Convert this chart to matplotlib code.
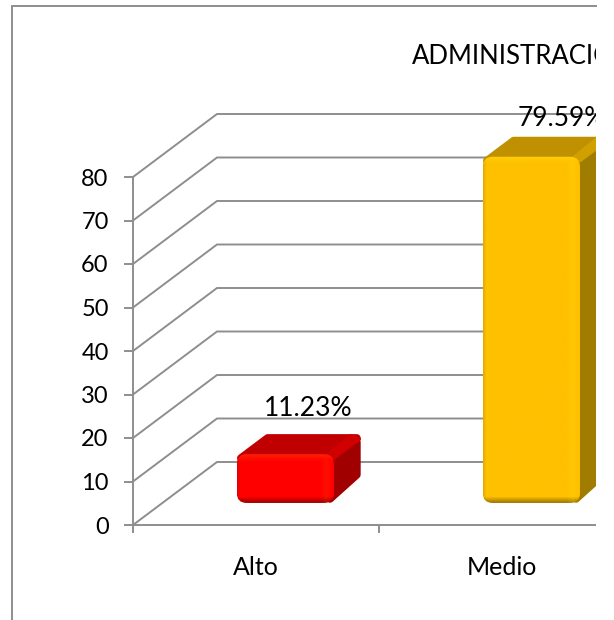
import numpy as np
import matplotlib
matplotlib.use("Agg")
import matplotlib.pyplot as plt
from matplotlib.lines import Line2D
from matplotlib.patches import FancyBboxPatch, Polygon, Rectangle

# ===== DATA =====
categories = ["Alto", "Medio"]
values = [11.23, 79.59]
value_labels = ["11.23%", "79.59%"]
y_ticks = [0, 10, 20, 30, 40, 50, 60, 70, 80]
title_text = "ADMINISTRACIÓN"

# ===== COLORS =====
front_colors = ["#FF0000", "#FFC000"]
top_colors = ["#C00000", "#BF9000"]
side_colors = ["#A00000", "#A07C00"]
corner_colors = ["#D00000", "#D0A000"]
grid_color = "#8E8E8E"

# ===== SCALES (pixels per data unit) =====
W, H = 614, 620
PX_X = 246.0
PX_Y = 4.35
X0, Y0 = 133, 95
DEPTH_X = 84 / PX_X
DEPTH_Y = 63 / PX_Y
BAR_W = 0.395
D_FRONT = 0.35
D_BACK = 0.67


def project(x, v, d):
    return x + d * DEPTH_X, v + d * DEPTH_Y


plt.rcParams["font.family"] = ["Lato", "DejaVu Sans"]
fig = plt.figure(figsize=(W / 100, H / 100), dpi=100)
ax = fig.add_axes([0, 0, 1, 1])
ax.set_xlim(-X0 / PX_X, (W - X0) / PX_X)
ax.set_ylim(-Y0 / PX_Y, (H - Y0) / PX_Y)
ax.patch.set_visible(False)

# ===== AXES =====
for s in ["top", "right"]:
    ax.spines[s].set_visible(False)
ax.spines["left"].set_position(("data", 0))
ax.spines["bottom"].set_position(("data", 0))
ax.spines["left"].set_bounds(0, 80)
ax.spines["bottom"].set_bounds(0, 2)
for s in ["left", "bottom"]:
    ax.spines[s].set_color(grid_color)
    ax.spines[s].set_linewidth(1.4)

ax.set_yticks(y_ticks)
ax.tick_params(axis="y", direction="out", length=6.5, width=1.4, color=grid_color,
               labelsize=17, pad=11, labelcolor="black")
ax.set_xticks([0, 1, 2])
ax.set_xticklabels([])
ax.set_xticks([i + 0.5 for i in range(len(categories))], categories, minor=True)
ax.tick_params(axis="x", which="major", direction="out", length=6, width=1.4, color=grid_color)
ax.tick_params(axis="x", which="minor", length=0, labelsize=18, pad=22, labelcolor="black")

# ===== GRID (side wall + back wall) =====
for v in y_ticks:
    bx, by = project(0, v, 1)
    ax.plot([0, bx, 2.5], [v, by, by], color=grid_color, lw=1.4, zorder=1,
            solid_joinstyle="miter")

# ===== BARS =====
label_shift = [(22.5, 25), (30, 18)]
for i, val in enumerate(values):
    left = i + 0.5 - BAR_W / 2
    right = i + 0.5 + BAR_W / 2

    fl, fb = project(left, 0, D_FRONT)
    fr, ft = project(right, val, D_FRONT)
    bl, bb = project(left, 0, D_BACK)
    br, bt = project(right, val, D_BACK)

    edge_x = 4 / PX_X
    edge_y = 4 / PX_Y

    # top face
    ax.add_patch(Polygon([(fl + edge_x, ft - edge_y), (bl + edge_x, bt - edge_y),
                          (br - edge_x, bt - edge_y), (fr - edge_x, ft - edge_y)],
                         closed=True, fc=top_colors[i], ec=top_colors[i], lw=5.5,
                         joinstyle="round", zorder=3))
    # side face
    ax.add_patch(Polygon([(fr - edge_x, fb + edge_y), (fr - edge_x, ft - 2 * edge_y),
                          (br - edge_x, bt - 2 * edge_y), (br - edge_x, bb + 2 * edge_y)],
                         closed=True, fc=side_colors[i], ec=side_colors[i], lw=5.5,
                         joinstyle="round", zorder=3.1))
    # lighter rounded shoulder between top and side
    ax.add_patch(Polygon([(fr - 2 * edge_x, ft), (br - 2.5 * edge_x, bt), (br, bt - edge_y),
                          (br, bt - 1.5 * edge_y), (fr, ft - 1.5 * edge_y)],
                         closed=True, fc=corner_colors[i], ec="none", zorder=3.2))

    # front face: bevelled gradient clipped to a rounded box
    px_w = int((fr - fl) * PX_X)
    px_h = int((ft - fb) * PX_Y)
    yy, xx = np.mgrid[0:px_h, 0:px_w]
    base = np.array(matplotlib.colors.to_rgb(front_colors[i]))
    img = np.ones((px_h, px_w, 3)) * base
    shade = np.ones((px_h, px_w))
    shade *= 0.62 + 0.38 * np.clip((px_h - 1 - yy) / 6, 0, 1)
    shade *= 0.9 + 0.1 * np.clip(xx / 3, 0, 1)
    img = img * shade[..., None]
    light = 0.22 * np.clip(1 - yy / 7, 0, 1)
    light = np.maximum(light, 0.12 * np.clip(1 - np.abs(xx - (px_w - 9)) / 6, 0, 1))
    img = img + (np.array([1, 1, 0.15]) - img) * light[..., None] * (1 if i else 0.5)

    box = FancyBboxPatch((fl, fb), fr - fl, ft - fb,
                         boxstyle="round,pad=0,rounding_size=0.04",
                         mutation_aspect=PX_X / PX_Y, fc="none", ec="none",
                         transform=ax.transData, zorder=3.3)
    ax.add_patch(box)
    im = ax.imshow(img, extent=(fl, fr, fb, ft), origin="upper", aspect="auto",
                   interpolation="bilinear", zorder=3.4)
    im.set_clip_path(box)

    # value label
    sx, sy = label_shift[i]
    ax.text((fl + fr) / 2 + sx / PX_X, bt + sy / PX_Y, value_labels[i], ha="center",
            va="center", fontsize=19, color="black", zorder=5)

ax.set_xlim(-X0 / PX_X, (W - X0) / PX_X)
ax.set_ylim(-Y0 / PX_Y, (H - Y0) / PX_Y)

# ===== TITLE, FRAME =====
fig.text(412 / W, 1 - 64 / H, title_text, ha="left", va="baseline", fontsize=18.5,
         color="black", zorder=5)

# the picture is cut off at the right
fig.add_artist(Rectangle((596 / W, 0), 18 / W, 1, transform=fig.transFigure,
                         fc="white", ec="none", zorder=20))
fig.add_artist(Line2D([11.5 / W, 11.5 / W, 596 / W], [0, 1 - 6 / H, 1 - 6 / H],
                      color=grid_color, lw=1.4, zorder=21, solid_joinstyle="miter"))

fig.savefig("out.png", dpi=100)
